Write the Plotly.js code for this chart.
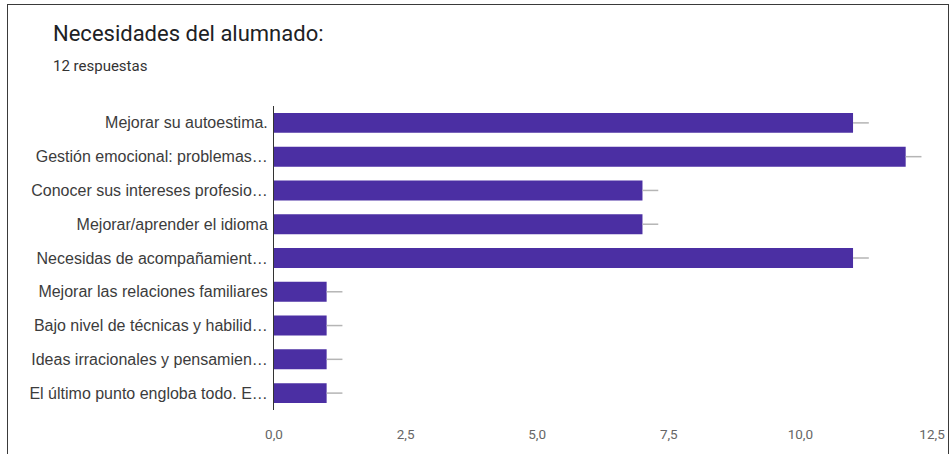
<!DOCTYPE html>
<html><head><meta charset="utf-8">
<script src="https://cdn.plot.ly/plotly-3.0.1.min.js"></script>
<style>
html,body{margin:0;padding:0;background:#fff;}
#frame{position:absolute;left:7px;top:4px;width:940px;height:460px;border:1px solid #3a3a3a;border-bottom:none;}
#chart{position:absolute;left:0;top:0;width:951px;height:454px;}
</style></head>
<body>
<div id="frame"></div>
<div id="chart"></div>
<script>
const categories = [
  "Mejorar su autoestima.",
  "Gestión emocional: problemas…",
  "Conocer sus intereses profesio…",
  "Mejorar/aprender el idioma",
  "Necesidas de acompañamient…",
  "Mejorar las relaciones familiares",
  "Bajo nivel de técnicas y habilid…",
  "Ideas irracionales y pensamien…",
  "El último punto engloba todo. E…"
];
const counts = [11, 12, 7, 7, 11, 1, 1, 1, 1];
const tickValues = [0, 2.5, 5, 7.5, 10, 12.5];

const trace = {
  type: 'bar',
  orientation: 'h',
  x: counts,
  y: categories,
  marker: {color: '#4b2fa3'},
  error_x: {type: 'data', symmetric: false, array: counts.map(() => 0.3), arrayminus: counts.map(() => 0), width: 0, color: '#b5b5b5', thickness: 1.5},
  hoverinfo: 'x+y'
};

const layout = {
  width: 951, height: 454,
  margin: {l: 274, r: 19, t: 106, b: 44},
  paper_bgcolor: 'rgba(0,0,0,0)',
  plot_bgcolor: 'rgba(0,0,0,0)',
  separators: ',.',
  bargap: 0.41,
  showlegend: false,
  font: {family: 'Roboto, Arial, sans-serif', color: '#333'},
  xaxis: {
    range: [0, 12.5], tickvals: tickValues, tickformat: '.1f',
    showgrid: false, zeroline: false, showline: false,
    tickfont: {size: 13.5, color: '#666'}, ticks: '', ticklabelstandoff: 14
  },
  yaxis: {
    autorange: 'reversed', showgrid: false, zeroline: false,
    showline: true, linecolor: '#333', linewidth: 1,
    ticks: '', ticklabelstandoff: 2,
    tickfont: {size: 16, color: '#3c3c3c', family: 'Arial, "Liberation Sans", sans-serif'}
  },
  annotations: [
    {text: 'Necesidades del alumnado:', xref: 'paper', yref: 'paper', x: -0.339, y: 1.240, xanchor: 'left', yanchor: 'middle', showarrow: false, font: {size: 22, color: '#202124', family: 'Roboto, Arial, sans-serif'}},
    {text: '12 respuestas', xref: 'paper', yref: 'paper', x: -0.339, y: 1.131, xanchor: 'left', yanchor: 'middle', showarrow: false, font: {size: 15, color: '#333', family: 'Roboto, Arial, sans-serif'}}
  ]
};

Plotly.newPlot('chart', [trace], layout, {displayModeBar: false, staticPlot: true});
</script>
</body></html>
